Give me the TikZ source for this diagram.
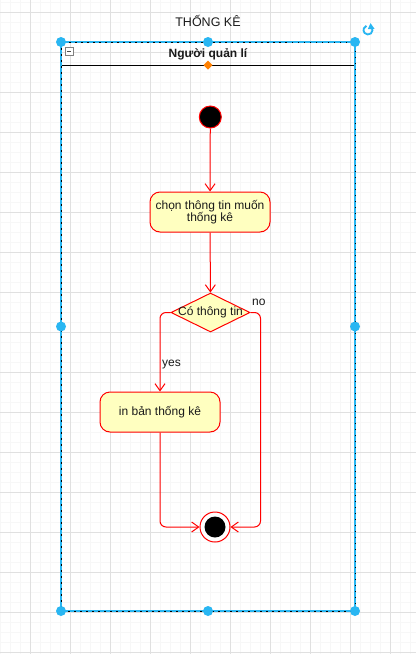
\documentclass[tikz,border=0pt]{standalone}
\usepackage{fontspec}
\setmainfont{Liberation Sans}
\usetikzlibrary{arrows.meta,shapes.geometric}
\definecolor{lred}{HTML}{FF0000}
\definecolor{afill}{HTML}{FFFFC0}
\definecolor{hblue}{HTML}{29B6F2}
\definecolor{gmaj}{HTML}{E0E0E0}
\definecolor{gmin}{HTML}{F7F7F7}
\definecolor{txt}{HTML}{1A1A1A}
\tikzset{
  act/.style={draw=lred, fill=afill, line width=1pt, rounded corners=10pt, align=center, text=txt, inner sep=2pt},
  dec/.style={draw=lred, fill=afill, line width=1pt, diamond, minimum width=79pt, minimum height=39pt, inner sep=0pt},
  startst/.style={circle, draw=lred, fill=black, line width=1pt, minimum size=22pt, inner sep=0pt},
  endo/.style={circle, draw=lred, fill=white, line width=1pt, minimum size=30pt, inner sep=0pt},
  endi/.style={circle, fill=black, minimum size=21pt, inner sep=0pt},
  edge/.style={draw=lred, line width=1pt, rounded corners=6pt, -{Straight Barb[length=7pt,width=10pt]}},
  handle/.style={fill=hblue},
  lbl/.style={text=txt, inner sep=0pt}
}
\begin{document}
\begin{tikzpicture}[x=1pt,y=-1pt,font=\fontsize{12}{14}\selectfont]
\useasboundingbox (0,0) rectangle (416,654);
\fill[white] (0,0) rectangle (416,654);
% grid
\foreach \i in {0,...,41} \draw[gmin, line width=0.5pt] (\i*10+0.5,0) -- (\i*10+0.5,654);
\foreach \j in {0,...,65} \draw[gmin, line width=0.5pt] (0,\j*10+2.5) -- (416,\j*10+2.5);
\foreach \i in {0,...,9} \draw[gmaj, line width=1pt] (\i*40+30.5,0) -- (\i*40+30.5,654);
\foreach \j in {0,...,16} \draw[gmaj, line width=1pt] (0,\j*40+12.5) -- (416,\j*40+12.5);
% title
\node[lbl, font=\fontsize{12.5}{14}\selectfont] (title) at (208,21) {THỐNG KÊ};
% swimlane
\draw[black, line width=1pt] (61,65) -- (355,65);
\draw[hblue, line width=1.2pt] (61,42) rectangle (355,611);
\draw[black, line width=0.6pt, dash pattern=on 1.5pt off 4.5pt] (61,42) rectangle (355,611);
\node[lbl, font=\fontsize{12}{14}\selectfont\bfseries] (lane) at (208,54) {Người quản lí};
\draw[gray, fill=white, line width=0.8pt] (65,47.5) rectangle (73,55);
\draw[black!70, line width=1.2pt] (67,51.25) -- (71,51.25);
% nodes
\node[startst] (s) at (210.3,117) {};
\node[act, minimum width=120pt, minimum height=40pt] (a1) at (210,212) {chọn thông tin muốn\\[-2pt]thống kê};
\node[dec] (d) at (210.5,312.5) {};
\node[lbl] (dt) at (d.center) {Có thông tin};
\node[act, minimum width=120pt, minimum height=40pt] (a2) at (160,412) {in bản thống kê};
\node[endo] (e) at (215,527) {};
\node[endi] (ei) at (e.center) {};
% edges
\draw[edge] (s) -- (a1);
\draw[edge] (a1) -- (d);
\draw[edge] (d.west) -| (a2.north);
\coordinate (nr) at (260.5,312.5);
\draw[edge] (d.east) -- (nr) |- (e.east);
\draw[edge] (a2.south) |- (e.west);
\node[lbl, anchor=west] (yes) at (162,365) {yes};
\node[lbl, anchor=west] (no) at (252,302) {no};
% selection handles
\foreach \p in {(61,42),(208,42),(355,42),(61,326.5),(355,326.5),(61,611),(208,611),(355,611)}
  \fill[handle] \p circle (5);
\fill[orange] (208,60.5) -- (212.5,65) -- (208,69.5) -- (203.5,65) -- cycle;
\draw[hblue, line width=1.8pt] (368,30) ++(-40:4.5) arc[start angle=-40, end angle=250, radius=4.5];
\fill[hblue] (370.5,23.2) -- (374.5,28.8) -- (367.8,29.2) -- cycle;
\end{tikzpicture}
\end{document}
